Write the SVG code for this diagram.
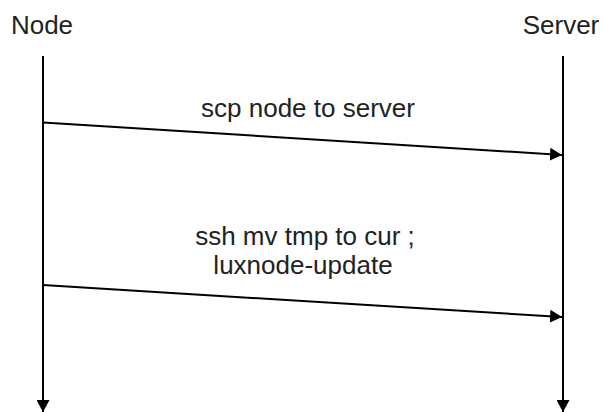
<svg xmlns="http://www.w3.org/2000/svg" width="604" height="412" viewBox="0 0 604 412">
  <style>
    .lbl { font-family: "Liberation Sans", Arial, sans-serif; font-size: 26px; fill: #222; }
    .mid { text-anchor: middle; }
    .ln { stroke: #000; stroke-width: 2; fill: none; }
  </style>
  <defs>
    <marker id="ah" viewBox="0 0 12 13" refX="12" refY="6.5" markerWidth="12" markerHeight="13" markerUnits="userSpaceOnUse" orient="auto">
      <path d="M0,0 L12,6.5 L0,13 Z" fill="#000"/>
    </marker>
  </defs>
  <rect x="0" y="0" width="604" height="412" fill="#fff"/>
  <g id="node">
    <text class="lbl mid" x="42" y="34">Node</text>
  </g>
  <g id="server">
    <text class="lbl mid" x="561" y="34">Server</text>
  </g>
  <g id="connectors">
    <line class="ln" x1="43" y1="56" x2="43" y2="412" marker-end="url(#ah)"/>
    <line class="ln" x1="563" y1="56" x2="563" y2="412" marker-end="url(#ah)"/>
    <line class="ln" x1="43" y1="122.5" x2="562" y2="155" marker-end="url(#ah)"/>
    <line class="ln" x1="43" y1="285" x2="562" y2="317" marker-end="url(#ah)"/>
    <text class="lbl mid" x="308" y="117">scp node to server</text>
    <text class="lbl mid" x="305" y="245">ssh mv tmp to cur ;</text>
    <text class="lbl mid" x="303" y="274">luxnode-update</text>
  </g>
</svg>
